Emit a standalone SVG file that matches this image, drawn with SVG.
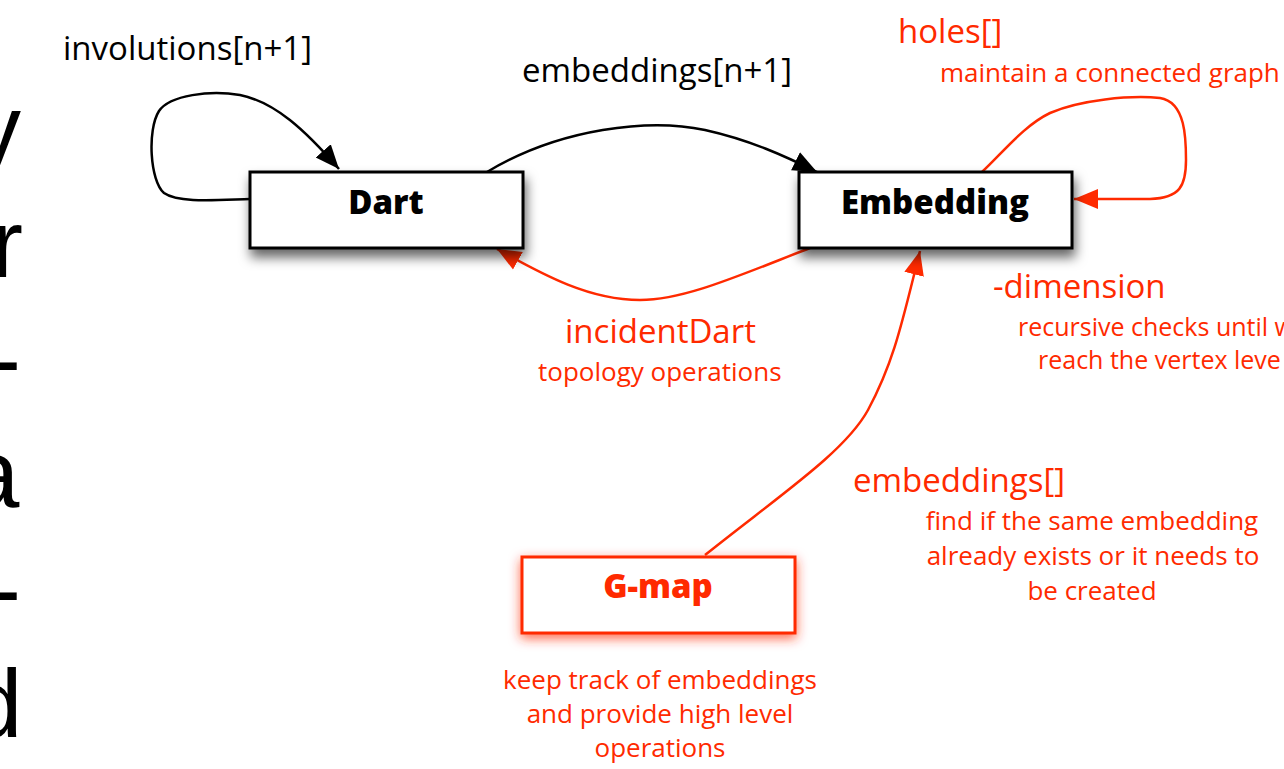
<svg xmlns="http://www.w3.org/2000/svg" width="1284" height="769" viewBox="0 0 1284 769">
  <style>
    .lbl { font-family: "Open Sans", "Noto Sans", sans-serif; font-size: 33px; }
    .sm { font-family: "Open Sans", "Noto Sans", sans-serif; font-size: 26px; }
    .sm2 { font-family: "Open Sans", "Noto Sans", sans-serif; font-size: 25px; }
    .red { fill: #ff2a00; }
    .blk { fill: #000; }
    .big { font-family: "Liberation Sans", Arial, sans-serif; font-size: 96px; fill: #000; }
    .box { fill: #fff; stroke: #000; stroke-width: 3; }
    .rbox { fill: #fff; stroke: #ff2a00; stroke-width: 3; }
    .title { font-family: "Open Sans", "Noto Sans", sans-serif; font-size: 33px; font-weight: 800; text-anchor: middle; }
    .cb { fill: none; stroke: #000; stroke-width: 2.5; }
    .cr { fill: none; stroke: #ff2a00; stroke-width: 2.5; }
  </style>
  <defs>
    <filter id="shadow" x="-20%" y="-30%" width="140%" height="190%">
      <feDropShadow dx="2" dy="8" stdDeviation="6" flood-color="#000" flood-opacity="0.6"/>
    </filter>
    <filter id="glow" x="-20%" y="-40%" width="140%" height="190%">
      <feDropShadow dx="0" dy="4" stdDeviation="6" flood-color="#ff2a00" flood-opacity="0.7"/>
    </filter>
    <marker id="ab" markerUnits="userSpaceOnUse" markerWidth="26" markerHeight="22" refX="24" refY="11" orient="auto" viewBox="0 0 26 22">
      <path d="M0,1 L24,11 L0,21 Z" fill="#000"/>
    </marker>
    <marker id="ar" markerUnits="userSpaceOnUse" markerWidth="26" markerHeight="22" refX="24" refY="11" orient="auto" viewBox="0 0 26 22">
      <path d="M0,1 L24,11 L0,21 Z" fill="#ff2a00"/>
    </marker>
  </defs>

  <g id="side-letters">
    <text class="big" x="-27" y="162">y</text>
    <text class="big" x="-9" y="277">r</text>
    <text class="big" x="-11" y="392">-</text>
    <text class="big" x="-34" y="507">a</text>
    <text class="big" x="-11" y="622">-</text>
    <text class="big" x="-31" y="737">d</text>
  </g>

  <g id="connectors">
    <path class="cb" marker-end="url(#ab)" d="M250,199 C215,200 178,203 164,193 C150,181 147,130 159,111 C170,95 210,90 240,95 C275,102 305,130 339,169"/>
    <path class="cb" marker-end="url(#ab)" d="M487,172 C560,128 650,118 705,130 C750,140 785,156 817,172"/>
    <path class="cr" marker-end="url(#ar)" d="M810,248 C740,275 685,300 640,300 C590,300 545,276 497,249"/>
    <path class="cr" marker-end="url(#ar)" d="M705,555 C780,495 845,452 868,410 C895,360 903,318 920,251"/>
    <path class="cr" marker-end="url(#ar)" d="M982,172 C1005,150 1025,125 1050,113 C1080,100 1130,95 1160,98 C1186,102 1186,140 1186,160 C1186,186 1180,198 1150,199 L1074,199"/>
  </g>

  <g id="labels">
    <text class="lbl blk" x="63" y="60">involutions[n+1]</text>
    <text class="lbl blk" x="522" y="82">embeddings[n+1]</text>
    <text class="lbl red" x="898" y="43">holes[]</text>
    <text class="sm red" x="940" y="82">maintain a connected graph</text>
    <text class="lbl red" x="565" y="343">incidentDart</text>
    <text class="sm red" x="538" y="381">topology operations</text>
    <text class="lbl red" x="993" y="298">-dimension</text>
    <text class="sm2 red" x="1018" y="336">recursive checks until w</text>
    <text class="sm2 red" x="1038" y="369">reach the vertex leve</text>
    <text class="lbl red" x="853" y="492">embeddings[]</text>
    <text class="sm red" x="1092" y="530" text-anchor="middle">find if the same embedding</text>
    <text class="sm red" x="1093" y="565" text-anchor="middle">already exists or it needs to</text>
    <text class="sm red" x="1092" y="600" text-anchor="middle">be created</text>
    <text class="sm red" x="660" y="689" text-anchor="middle">keep track of embeddings</text>
    <text class="sm red" x="660" y="723" text-anchor="middle">and provide high level</text>
    <text class="sm red" x="660" y="757" text-anchor="middle">operations</text>
  </g>

  <g id="dart">
    <rect class="box" x="250" y="172" width="273" height="76" filter="url(#shadow)"/>
    <text class="title blk" x="386" y="214">Dart</text>
  </g>
  <g id="embedding">
    <rect class="box" x="799" y="172" width="273" height="76" filter="url(#shadow)"/>
    <text class="title blk" x="935" y="214">Embedding</text>
  </g>
  <g id="gmap">
    <rect class="rbox" x="522" y="557" width="273" height="76" filter="url(#glow)"/>
    <text class="title red" x="658" y="598">G-map</text>
  </g>
</svg>
